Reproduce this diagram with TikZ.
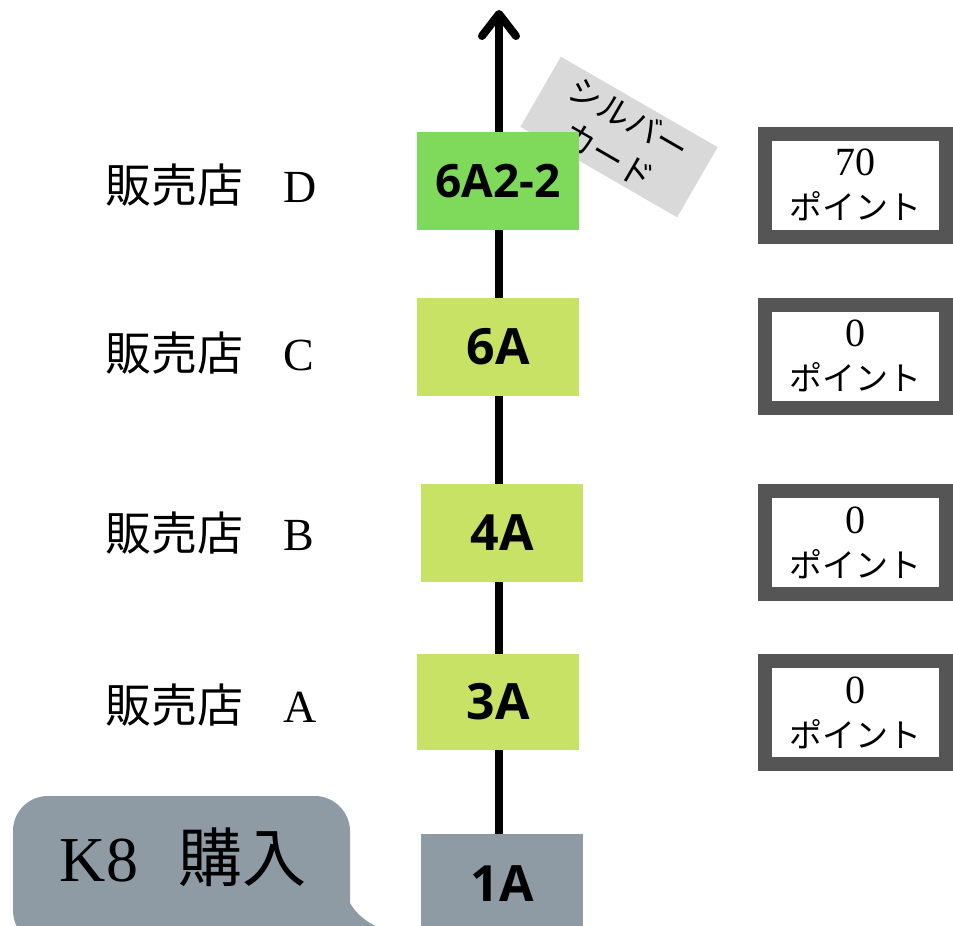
\documentclass[tikz,border=0pt]{standalone}
\usepackage{fontspec}
\setmainfont{Liberation Serif}
\newfontfamily\jp{Noto Sans CJK JP}
\newfontfamily\lbl{Open Sans}
\definecolor{gA}{HTML}{7FD95A}
\definecolor{gB}{HTML}{C8E266}
\definecolor{grayA}{HTML}{8E9AA4}
\definecolor{tagc}{HTML}{D9D9D9}
\definecolor{frame}{HTML}{555555}
\begin{document}
\begin{tikzpicture}[x=1pt,y=-1pt,
  stage/.style={minimum width=162pt, minimum height=98pt, inner sep=0pt,
    font=\fontsize{50}{54}\lbl\bfseries},
  pbox/.style={draw=frame, line width=14pt, fill=white, minimum width=181pt,
    minimum height=103pt, inner sep=0pt, align=center,
    font=\fontsize{33}{44}\selectfont},
  shop/.style={inner sep=0pt, anchor=base west, font=\fontsize{46}{50}\selectfont},
  axis/.style={line width=8pt, black},
  tagbox/.style={fill=tagc, minimum width=181pt, minimum height=81pt, inner sep=0pt,
    align=center, font=\fontsize{33}{42}\jp},
]
\useasboundingbox (0,0) rectangle (953,926);

% speech bubble
\fill[grayA] (13,910) -- (13,831) .. controls (13,812) and (28,796) .. (48,796)
  -- (315,796) .. controls (334,796) and (350,812) .. (350,831)
  -- (350,903) .. controls (356,914) and (368,924) .. (385,930)
  -- (48,945) .. controls (28,945) and (13,930) .. (13,910) -- cycle;
\node[inner sep=0pt, font=\fontsize{64}{70}\selectfont] (buy) at (183,857)
  {K8\hspace{40pt}{\jp 購入}};

% axis
\coordinate (tip) at (499,14);
\node[stage, fill=grayA, minimum height=100pt] (n1) at (502,884) {1A};
\draw[axis] (n1.north -| tip) -- (tip);
\draw[axis, line cap=round, line join=round] (tip) ++(-17,22) -- (tip) -- ++(17,22);

% silver card tag
\node[tagbox, rotate=-30] (tag) at (619,137) {シルバー\\カード};

% stage boxes
\node[stage, fill=gA, font=\fontsize{46}{50}\lbl\bfseries] (n62) at (498,181) {6A2-2};
\node[stage, fill=gB] (n6) at (498,347) {6A};
\node[stage, fill=gB] (n4) at (502,533) {4A};
\node[stage, fill=gB, minimum height=96pt] (n3) at (498,702) {3A};

% shop labels
\node[shop] (sD) at (105,202) {{\jp 販売店\hspace{40pt}}D};
\node[shop] (sC) at (105,370) {{\jp 販売店\hspace{40pt}}C};
\node[shop] (sB) at (105,550) {{\jp 販売店\hspace{40pt}}B};
\node[shop] (sA) at (105,722) {{\jp 販売店\hspace{40pt}}A};

% point boxes
\node[pbox] (pD) at (855.5,185) {{\fontsize{40}{40}\selectfont 70}\\{\jp ポイント}};
\node[pbox] (pC) at (855.5,356) {{\fontsize{40}{40}\selectfont 0}\\{\jp ポイント}};
\node[pbox] (pB) at (855.5,542.5) {{\fontsize{40}{40}\selectfont 0}\\{\jp ポイント}};
\node[pbox] (pA) at (855.5,712.5) {{\fontsize{40}{40}\selectfont 0}\\{\jp ポイント}};
\end{tikzpicture}
\end{document}
